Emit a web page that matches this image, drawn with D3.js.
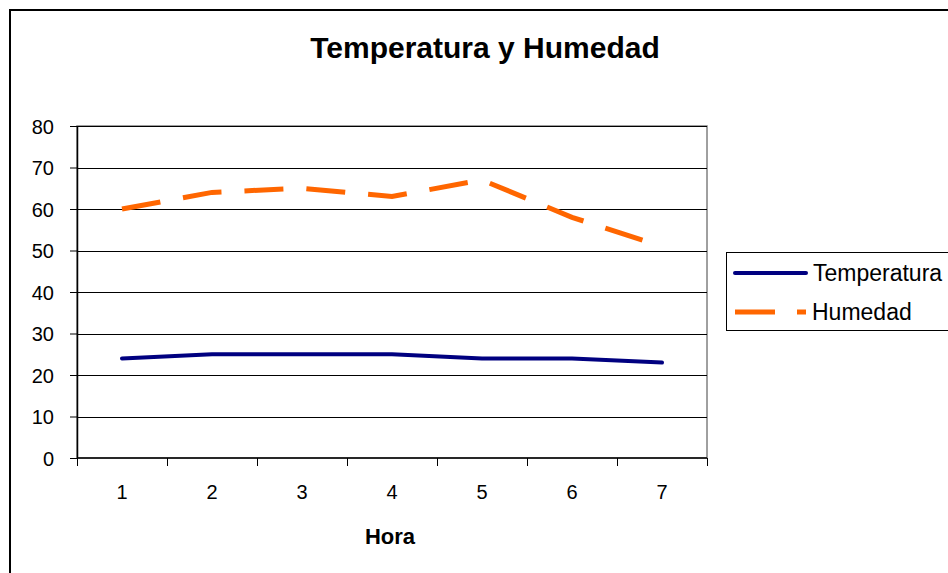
<!DOCTYPE html>
<html>
<head>
<meta charset="utf-8">
<script src="https://cdn.jsdelivr.net/npm/d3@7"></script>
<style>
  body { margin: 0; background: #fff; }
  svg text { font-family: "Liberation Sans", Arial, sans-serif; fill: #000; }
</style>
</head>
<body>
<svg id="chart" width="948" height="573"></svg>
<script>
const horas = ["1", "2", "3", "4", "5", "6", "7"];
const temperatura = [24, 25, 25, 25, 24, 24, 23];
const humedad = [60, 64, 65, 63, 67, 58, 51];
const yTicks = [0, 10, 20, 30, 40, 50, 60, 70, 80];

const margin = { top: 126, left: 77 };
const width = 630;
const height = 332;

const svg = d3.select("#chart");

// outer frame (cut off at right and bottom)
svg.append("path")
    .attr("d", "M10,580 L10,10 L960,10")
    .attr("fill", "none")
    .attr("stroke", "#000")
    .attr("stroke-width", 2);

svg.append("text")
    .attr("x", 485)
    .attr("y", 58)
    .attr("text-anchor", "middle")
    .style("font-size", "30px")
    .style("font-weight", "bold")
    .text("Temperatura y Humedad");

const g = svg.append("g")
    .attr("transform", `translate(${margin.left},${margin.top})`);

const x = d3.scaleBand()
    .domain(horas)
    .range([0, width]);

const y = d3.scaleLinear()
    .domain([0, 80])
    .range([height, 0]);

// plot border
g.append("rect")
    .attr("width", width)
    .attr("height", height)
    .attr("fill", "none")
    .attr("stroke", "#808080")
    .attr("stroke-width", 1.5);

// gridlines
g.selectAll(".grid")
    .data(yTicks.filter(d => d > 0))
    .enter().append("line")
    .attr("x1", 0)
    .attr("x2", width)
    .attr("y1", d => Math.round(y(d)) + 0.5)
    .attr("y2", d => Math.round(y(d)) + 0.5)
    .attr("stroke", "#000")
    .attr("stroke-width", 1);

// y axis
const yAxis = d3.axisLeft(y)
    .tickValues(yTicks)
    .tickSize(7)
    .tickPadding(16);

g.append("g")
    .call(yAxis)
    .call(a => a.select(".domain").attr("d", `M0.5,0V${height}`).attr("stroke-width", 1.5))
    .selectAll("text")
    .style("font-size", "20px")
    .attr("dy", "0.35em");

// x axis: ticks between categories
const xAxis = g.append("g")
    .attr("transform", `translate(0,${height})`);

xAxis.append("line")
    .attr("x1", 0)
    .attr("x2", width)
    .attr("stroke", "#000")
    .attr("stroke-width", 1.5);

const bounds = horas.map(h => x(h)).concat([width]);
xAxis.selectAll(".tick")
    .data(bounds)
    .enter().append("line")
    .attr("x1", d => Math.round(d) + 0.5)
    .attr("x2", d => Math.round(d) + 0.5)
    .attr("y1", 0)
    .attr("y2", 8)
    .attr("stroke", "#000");

xAxis.selectAll(".lbl")
    .data(horas)
    .enter().append("text")
    .attr("x", d => x(d) + x.bandwidth() / 2)
    .attr("y", 41)
    .attr("text-anchor", "middle")
    .style("font-size", "20px")
    .text(d => d);

svg.append("text")
    .attr("x", 390)
    .attr("y", 544)
    .attr("text-anchor", "middle")
    .style("font-size", "22px")
    .style("font-weight", "bold")
    .text("Hora");

const line = d3.line()
    .x((d, i) => x(horas[i]) + x.bandwidth() / 2)
    .y(d => y(d));

g.append("path")
    .datum(temperatura)
    .attr("d", line)
    .attr("fill", "none")
    .attr("stroke", "#000080")
    .attr("stroke-width", 4)
    .attr("stroke-linecap", "round")
    .attr("stroke-linejoin", "round");

g.append("path")
    .datum(humedad)
    .attr("d", line)
    .attr("fill", "none")
    .attr("stroke", "#FF6600")
    .attr("stroke-width", 5)
    .attr("stroke-dasharray", "39,23");

// legend
const legend = svg.append("g");
legend.append("rect")
    .attr("x", 726.5)
    .attr("y", 252.5)
    .attr("width", 240)
    .attr("height", 78)
    .attr("fill", "#fff")
    .attr("stroke", "#000")
    .attr("stroke-width", 1);

legend.append("line")
    .attr("x1", 735).attr("x2", 806)
    .attr("y1", 273).attr("y2", 273)
    .attr("stroke", "#000080")
    .attr("stroke-width", 4)
    .attr("stroke-linecap", "round");

legend.append("line")
    .attr("x1", 735).attr("x2", 806)
    .attr("y1", 312).attr("y2", 312)
    .attr("stroke", "#FF6600")
    .attr("stroke-width", 5)
    .attr("stroke-dasharray", "40,22");

legend.append("text")
    .attr("x", 813).attr("y", 281)
    .style("font-size", "23px")
    .text("Temperatura");

legend.append("text")
    .attr("x", 812).attr("y", 320)
    .style("font-size", "23px")
    .text("Humedad");
</script>
</body>
</html>
